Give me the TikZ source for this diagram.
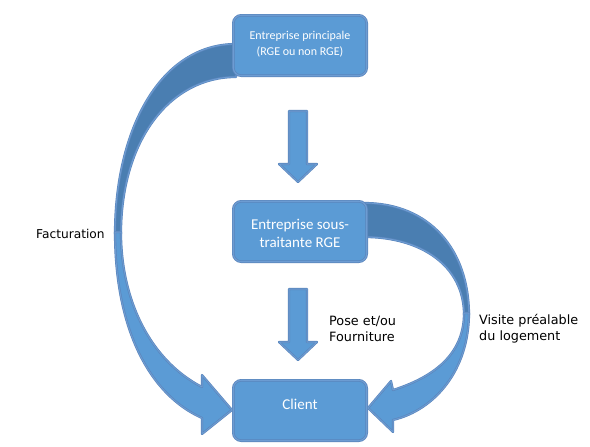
\documentclass[tikz,border=0pt]{standalone}
\usepackage{fontspec}
\setmainfont{Carlito}
\newfontfamily\labfont{DejaVu Sans}
\definecolor{boxfill}{HTML}{5B9BD5}
\definecolor{backfill}{HTML}{4A7EB1}
\definecolor{edgeout}{HTML}{5A85BC}
\definecolor{edgein}{HTML}{6D9CD2}
\begin{document}
\begin{tikzpicture}[x=1pt,y=-1pt,
  boxnode/.style={draw=edgeout, double=edgein, double distance=1.2pt, line width=0.7pt,
    fill=boxfill, rounded corners=8pt, minimum width=133.4pt, minimum height=60.4pt, inner sep=0pt},
  fatarrow/.style={draw=edgeout, double=edgein, double distance=1pt, line width=0.6pt,
    fill=boxfill, line join=round},
  backpart/.style={fatarrow, fill=backfill},
  boxtext/.style={text=white, align=center, inner sep=0pt},
  lab/.style={font=\labfont\fontsize{12.8}{16}\selectfont, inner sep=0pt, text=black}]
\fill[white] (0,0) rectangle (590,447);
\path[use as bounding box] (0,0) rectangle (590,447);

\path (300,45.5) coordinate (c1) (300,231.5) coordinate (c2) (300,410.5) coordinate (c3);

% left curved arrow (Facturation)
\path[backpart] (236,44) .. controls (160,44) and (115,130) .. (115,234)
  -- (121,234) .. controls (121,140) and (170,77) .. (236,77) -- cycle;
\path[fatarrow] (115,232) .. controls (115,330) and (150,395) .. (202,418)
  -- (202,434) -- (232,410) -- (202,375) -- (202,387)
  .. controls (150,360) and (121,300) .. (121,232) -- cycle;

% right curved arrow (Visite prealable)
\path[backpart] (364,203) .. controls (430,203) and (469,250) .. (469,315)
  -- (464,315) .. controls (464,265) and (420,237) .. (364,237) -- cycle;
\path[fatarrow] (469,313) .. controls (469,370) and (435,410) .. (393,420)
  -- (393,432) -- (368,408) -- (391,381) -- (393,390)
  .. controls (440,375) and (464,350) .. (464,313) -- cycle;

% boxes
\node[boxnode] (b1) at (c1) {};
\node[boxnode] (b2) at (c2) {};
\node[boxnode] (cl) at (c3) {};

% straight arrows
\path[fatarrow] (289,111) -- (307,111) -- (307,164) -- (317,164) -- (298,182)
  -- (279,164) -- (289,164) -- cycle;
\path[fatarrow] (289,289) -- (307,289) -- (307,342) -- (317,342) -- (298,360)
  -- (279,342) -- (289,342) -- cycle;

% texts
\node[boxtext, font=\fontsize{12}{16}\selectfont] (t1) at (300,43.7) {Entreprise principale\\(RGE ou non RGE)};
\node[boxtext, font=\fontsize{15}{18}\selectfont] (t2) at (300,233) {Entreprise sous-\\traitante RGE};
\node[boxtext, font=\fontsize{15}{18}\selectfont] (t3) at (300,404) {Client};

\node[lab, anchor=west, font=\labfont\fontsize{12.2}{16}\selectfont] (fact) at (36,234) {Facturation};
\node[lab, anchor=west, align=left] (pose) at (329,329) {Pose et/ou\\Fourniture};
\node[lab, anchor=west, align=left] (visite) at (479,329) {Visite préalable\\du logement};
\end{tikzpicture}
\end{document}
